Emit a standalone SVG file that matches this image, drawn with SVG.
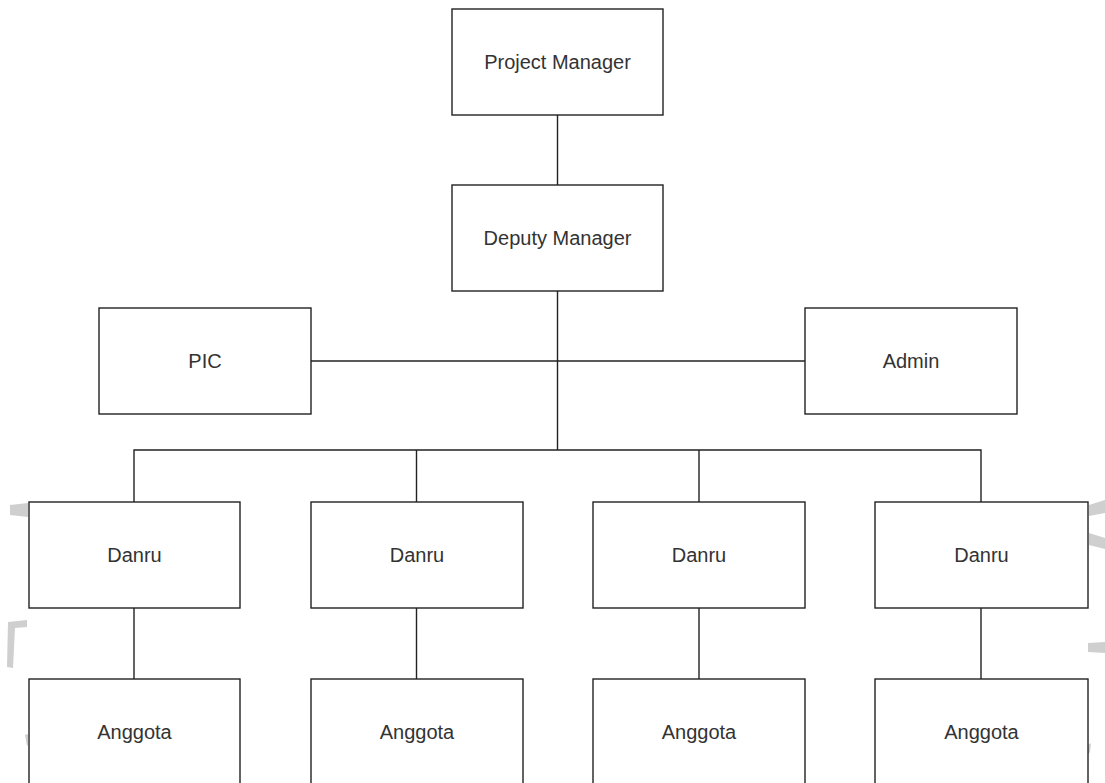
<svg xmlns="http://www.w3.org/2000/svg" width="1105" height="783" viewBox="0 0 1105 783">
  <style>
    .box { fill: #ffffff; stroke: #222222; stroke-width: 1.4; }
    .lbl { font-family: "Liberation Sans", Arial, sans-serif; font-size: 20px; fill: #333333; text-anchor: middle; dominant-baseline: central; }
    .conn { fill: none; stroke: #222222; stroke-width: 1.4; }
    .wm { fill: #cfcfcf; stroke: none; }
  </style>
  <rect width="1105" height="783" fill="#ffffff"/>
  <g id="watermark">
    <polygon class="wm" points="10,505 28,503 28,517 10,515"/>
    <polygon class="wm" points="8,622 27,620 27,627 15,628 13,668 7,667"/>
    <polygon class="wm" points="25,735 28,734 28,745 27,746"/>
    <polygon class="wm" points="1089,505 1105,500 1105,513 1089,516"/>
    <polygon class="wm" points="1089,533 1105,538 1105,549 1089,545"/>
    <polygon class="wm" points="1088,643 1105,642 1105,653 1088,652"/>
    <polygon class="wm" points="1088,745 1091,743 1090,752 1088,755"/>
  </g>
  <g id="connectors">
    <line class="conn" x1="557.5" y1="115" x2="557.5" y2="185"/>
    <line class="conn" x1="557.5" y1="291" x2="557.5" y2="450"/>
    <line class="conn" x1="311" y1="361" x2="805" y2="361"/>
    <polyline class="conn" points="134,502 134,450 981,450 981,502"/>
    <line class="conn" x1="416.5" y1="450" x2="416.5" y2="502"/>
    <line class="conn" x1="699" y1="450" x2="699" y2="502"/>
    <line class="conn" x1="134" y1="608" x2="134" y2="679"/>
    <line class="conn" x1="416.5" y1="608" x2="416.5" y2="679"/>
    <line class="conn" x1="699" y1="608" x2="699" y2="679"/>
    <line class="conn" x1="981" y1="608" x2="981" y2="679"/>
  </g>
  <g id="project-manager">
    <rect class="box" x="452" y="9" width="211" height="106"/>
    <text class="lbl" x="557.5" y="62">Project Manager</text>
  </g>
  <g id="deputy-manager">
    <rect class="box" x="452" y="185" width="211" height="106"/>
    <text class="lbl" x="557.5" y="238">Deputy Manager</text>
  </g>
  <g id="pic">
    <rect class="box" x="99" y="308" width="212" height="106"/>
    <text class="lbl" x="205" y="361">PIC</text>
  </g>
  <g id="admin">
    <rect class="box" x="805" y="308" width="212" height="106"/>
    <text class="lbl" x="911" y="361">Admin</text>
  </g>
  <g id="danru-1">
    <rect class="box" x="29" y="502" width="211" height="106"/>
    <text class="lbl" x="134.5" y="555">Danru</text>
  </g>
  <g id="danru-2">
    <rect class="box" x="311" y="502" width="212" height="106"/>
    <text class="lbl" x="417" y="555">Danru</text>
  </g>
  <g id="danru-3">
    <rect class="box" x="593" y="502" width="212" height="106"/>
    <text class="lbl" x="699" y="555">Danru</text>
  </g>
  <g id="danru-4">
    <rect class="box" x="875" y="502" width="213" height="106"/>
    <text class="lbl" x="981.5" y="555">Danru</text>
  </g>
  <g id="anggota-1">
    <rect class="box" x="29" y="679" width="211" height="110"/>
    <text class="lbl" x="134.5" y="732">Anggota</text>
  </g>
  <g id="anggota-2">
    <rect class="box" x="311" y="679" width="212" height="110"/>
    <text class="lbl" x="417" y="732">Anggota</text>
  </g>
  <g id="anggota-3">
    <rect class="box" x="593" y="679" width="212" height="110"/>
    <text class="lbl" x="699" y="732">Anggota</text>
  </g>
  <g id="anggota-4">
    <rect class="box" x="875" y="679" width="213" height="110"/>
    <text class="lbl" x="981.5" y="732">Anggota</text>
  </g>
</svg>
